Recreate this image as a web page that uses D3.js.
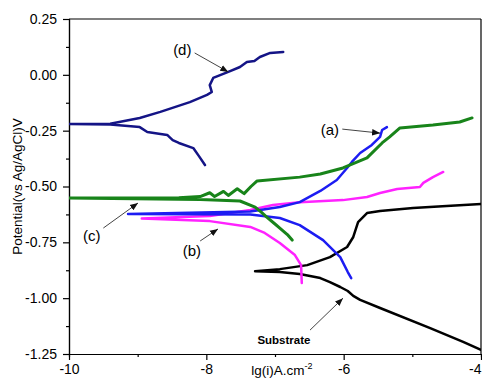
<!DOCTYPE html>
<html>
<head>
<meta charset="utf-8">
<script src="https://cdn.jsdelivr.net/npm/d3@7"></script>
<style>
  body { margin: 0; background: #fff; }
  svg { display: block; font-family: Arial, "Liberation Sans", sans-serif; }
  .axis path, .axis line { stroke: #000; stroke-width: 1.2; }
  .axis text { font-size: 14px; fill: #000; }
  .curve { fill: none; stroke-linejoin: round; stroke-linecap: round; }
</style>
</head>
<body>
<div class="chart"></div>
<script>
// lg(i) vs potential
const curveD = [[-8.02,-0.404],[-8.11,-0.363],[-8.19,-0.328],[-8.40,-0.305],[-8.49,-0.292],[-8.57,-0.269],[-8.86,-0.256],[-8.97,-0.234],[-9.40,-0.222],
  [-10,-0.220],[-9.40,-0.219],[-8.97,-0.193],[-8.67,-0.166],[-8.24,-0.122],[-7.99,-0.090],[-7.92,-0.077],[-7.95,-0.046],[-7.90,-0.014],
  [-7.68,0.013],[-7.51,0.035],[-7.41,0.057],[-7.30,0.062],[-7.22,0.080],[-7.07,0.098],[-6.88,0.102]];

const curveA = [[-5.89,-0.910],[-5.94,-0.883],[-6.05,-0.816],[-6.30,-0.740],[-6.64,-0.673],[-6.93,-0.641],[-7.36,-0.625],[-9.14,-0.623],
  [-7.36,-0.612],[-6.93,-0.592],[-6.64,-0.570],[-6.34,-0.520],[-6.10,-0.471],[-5.95,-0.417],[-5.88,-0.390],[-5.76,-0.350],
  [-5.59,-0.314],[-5.47,-0.278],[-5.44,-0.247],[-5.37,-0.234]];

const curveB = [[-6.61,-0.932],[-6.62,-0.852],[-6.71,-0.807],[-6.93,-0.753],[-7.15,-0.708],[-7.36,-0.681],[-7.95,-0.655],[-8.94,-0.643],
  [-7.95,-0.632],[-7.36,-0.605],[-7.03,-0.583],[-6.64,-0.570],[-6.01,-0.561],[-5.66,-0.547],[-5.47,-0.529],[-5.22,-0.511],
  [-4.89,-0.502],[-4.84,-0.484],[-4.70,-0.458],[-4.55,-0.435]];

const curveC = [[-6.75,-0.740],[-6.82,-0.715],[-6.93,-0.686],[-7.00,-0.668],[-7.12,-0.637],[-7.20,-0.615],[-7.29,-0.592],[-7.51,-0.565],
  [-8.09,-0.558],[-10,-0.552],[-8.40,-0.550],[-8.09,-0.545],[-7.95,-0.528],[-7.88,-0.545],[-7.75,-0.522],[-7.68,-0.540],
  [-7.55,-0.510],[-7.45,-0.532],[-7.35,-0.500],[-7.26,-0.475],[-6.64,-0.458],[-6.34,-0.444],[-6.01,-0.417],[-5.66,-0.372],
  [-5.44,-0.305],[-5.33,-0.278],[-5.18,-0.238],[-4.70,-0.225],[-4.31,-0.211],[-4.13,-0.193]];

const curveS = [[-4.00,-1.232],[-4.26,-1.196],[-4.74,-1.134],[-5.47,-1.044],[-5.76,-1.008],[-5.86,-0.990],[-5.94,-0.968],[-6.05,-0.950],
  [-6.20,-0.928],[-6.34,-0.910],[-6.64,-0.892],[-6.93,-0.883],[-7.29,-0.879],
  [-6.93,-0.870],[-6.53,-0.852],[-6.20,-0.816],[-5.95,-0.771],[-5.86,-0.726],[-5.79,-0.659],[-5.66,-0.619],[-5.47,-0.610],
  [-4.99,-0.596],[-4.50,-0.587],[-4.00,-0.578]];

const seriesNames = ['Substrate', '(b)', '(a)', '(c)', '(d)'];
const seriesData = [curveS, curveB, curveA, curveC, curveD];
const seriesColors = ['#000000', '#ff22ff', '#1c1cf2', '#18841a', '#141486'];

// label text position and arrow (from -> to), data units
const labelText = ['(d)', '(a)', '(c)', '(b)', 'Substrate'];
const labelPos = [[-8.35, 0.111], [-6.20, -0.247], [-9.67, -0.722], [-8.21, -0.789], [-6.87, -1.188]];
const arrowFrom = [[-8.17, 0.098], [-6.02, -0.243], [-9.50, -0.686], [-8.09, -0.744], [-6.49, -1.143]];
const arrowTo = [[-7.68, 0.013], [-5.47, -0.261], [-8.995, -0.574], [-7.83, -0.690], [-6.01, -1.000]];

const xTicks = [-10, -8, -6, -4];
const yTicks = [0.25, 0.00, -0.25, -0.50, -0.75, -1.00, -1.25];

const width = 482, height = 378;
const margin = { top: 19, right: 1, bottom: 24, left: 69 };
const iw = width - margin.left - margin.right;
const ih = height - margin.top - margin.bottom;

const svg = d3.select('.chart').append('svg')
  .attr('width', width).attr('height', height);

const defs = svg.append('defs');
defs.append('marker')
  .attr('id', 'head')
  .attr('viewBox', '0 0 10 10')
  .attr('refX', 10).attr('refY', 5)
  .attr('markerWidth', 8).attr('markerHeight', 8)
  .attr('markerUnits', 'userSpaceOnUse')
  .attr('orient', 'auto')
  .append('path').attr('d', 'M0,1 L10,5 L0,9 Z').attr('fill', '#111');
defs.append('clipPath').attr('id', 'plot')
  .append('rect').attr('width', iw).attr('height', ih);

const g = svg.append('g').attr('transform', 'translate(' + margin.left + ',' + margin.top + ')');

// Scales
const x = d3.scaleLinear().domain([-10, -4]).range([0, iw]);
const y = d3.scaleLinear().domain([-1.25, 0.25]).range([ih, 0]);

// Axes
const xMinor = [-9, -7, -5];
const yMinor = d3.range(-1.125, 0.25, 0.25);

g.append('g').attr('class', 'axis')
  .attr('transform', 'translate(0,' + ih + ')')
  .call(d3.axisBottom(x).tickValues(xMinor).tickSize(3).tickFormat(''));
g.append('g').attr('class', 'axis')
  .attr('transform', 'translate(0,' + ih + ')')
  .call(d3.axisBottom(x).tickValues(xTicks).tickSize(6).tickSizeOuter(0).tickPadding(4).tickFormat(d => String(d)))
  // last label sits on the window edge: keep it inside
  .call(a => a.selectAll('.tick text').filter(d => d === -4).attr('text-anchor', 'end'));

g.append('g').attr('class', 'axis')
  .call(d3.axisLeft(y).tickValues(yMinor).tickSize(3).tickFormat(''));
g.append('g').attr('class', 'axis')
  .call(d3.axisLeft(y).tickValues(yTicks).tickSize(6).tickSizeOuter(0).tickPadding(6)
    .tickFormat(d => d3.format('.2f')(d).replace('−', '-')));

// frame: top and right
g.append('line').attr('x1', 0).attr('x2', iw).attr('y1', 0).attr('y2', 0).attr('stroke', '#000').attr('stroke-width', 1.2);
g.append('line').attr('x1', iw).attr('x2', iw).attr('y1', 0).attr('y2', ih).attr('stroke', '#000').attr('stroke-width', 1.2);

// axis titles
svg.append('text')
  .attr('transform', 'translate(17,' + (margin.top + ih / 2) + ') rotate(-90)')
  .attr('text-anchor', 'middle')
  .attr('dy', '0.35em')
  .style('font-size', '13.5px')
  .text('Potential(vs Ag/AgCl)V');

const xt = svg.append('text')
  .attr('x', margin.left + x(-6.9)).attr('y', height - 3)
  .attr('text-anchor', 'middle')
  .style('font-size', '13.5px');
xt.append('tspan').text('lg(i)A.cm');
xt.append('tspan').attr('dy', -6).style('font-size', '9px').text('-2');

// Curves
const line = d3.line().x(d => x(d[0])).y(d => y(d[1]));

g.append('g').attr('clip-path', 'url(#plot)')
  .selectAll('path')
  .data(seriesData)
  .enter()
  .append('path')
  .attr('class', 'curve')
  .attr('stroke', (d, i) => seriesColors[i])
  .attr('stroke-width', (d, i) => i === 3 ? 3 : 2.5)
  .attr('d', line);

// Annotations
const notes = g.append('g');
labelText.forEach((t, i) => {
  notes.append('line')
    .attr('x1', x(arrowFrom[i][0])).attr('y1', y(arrowFrom[i][1]))
    .attr('x2', x(arrowTo[i][0])).attr('y2', y(arrowTo[i][1]))
    .attr('stroke', '#444').attr('stroke-width', 1)
    .attr('marker-end', 'url(#head)');
  notes.append('text')
    .attr('x', x(labelPos[i][0])).attr('y', y(labelPos[i][1]))
    .attr('dy', '0.35em')
    .attr('text-anchor', 'middle')
    .style('font-size', t === 'Substrate' ? '11.5px' : '15px')
    .style('font-weight', t === 'Substrate' ? 'bold' : 'normal')
    .text(t);
});
</script>
</body>
</html>
